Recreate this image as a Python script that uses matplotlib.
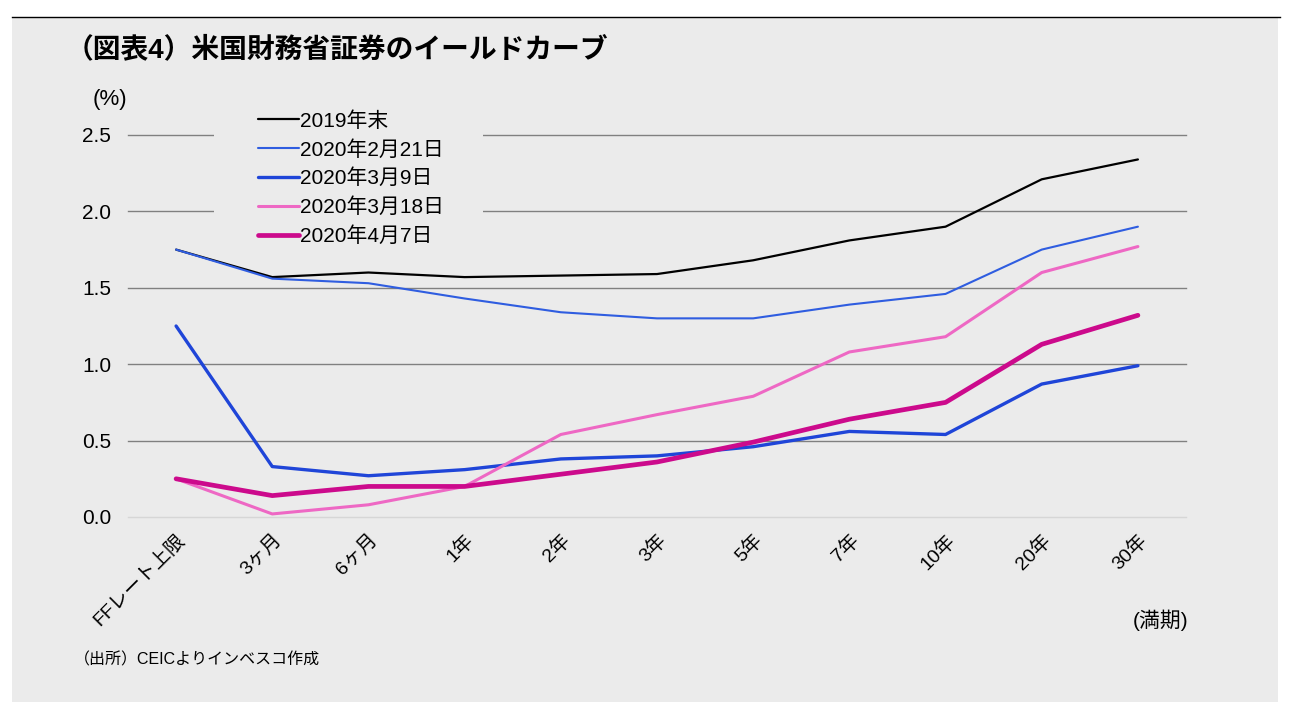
import matplotlib
matplotlib.use("Agg")
import matplotlib.pyplot as plt
from matplotlib.lines import Line2D
from matplotlib.patches import Rectangle

plt.rcParams['font.family'] = ['Liberation Sans', 'Noto Sans CJK JP', 'DejaVu Sans']

categories = ["FFレート上限", "3ヶ月", "6ヶ月", "1年", "2年", "3年", "5年", "7年", "10年", "20年", "30年"]
y2019_end = [1.75, 1.57, 1.60, 1.57, 1.58, 1.59, 1.68, 1.81, 1.90, 2.21, 2.34]
y2020_0221 = [1.75, 1.56, 1.53, 1.43, 1.34, 1.30, 1.30, 1.39, 1.46, 1.75, 1.90]
y2020_0309 = [1.25, 0.33, 0.27, 0.31, 0.38, 0.40, 0.46, 0.56, 0.54, 0.87, 0.99]
y2020_0318 = [0.25, 0.02, 0.08, 0.20, 0.54, 0.67, 0.79, 1.08, 1.18, 1.60, 1.77]
y2020_0407 = [0.25, 0.14, 0.20, 0.20, 0.28, 0.36, 0.49, 0.64, 0.75, 1.13, 1.32]
series_labels = ["2019年末", "2020年2月21日", "2020年3月9日", "2020年3月18日", "2020年4月7日"]
yticks = [0.0, 0.5, 1.0, 1.5, 2.0, 2.5]

colors = ["#000000", "#2f5de0", "#1f45d8", "#ee68c4", "#cc0a8c"]
widths = [1.6, 1.5, 2.4, 2.2, 3.4]

BG = "#ebebeb"
W, H = 1295, 720
fig = plt.figure(figsize=(W / 100, H / 100), dpi=100)
fig.patch.set_facecolor("white")

# background panel and top rule
bg = Rectangle((12 / W, 1 - 702 / H), (1278 - 12) / W, (702 - 17) / H,
               transform=fig.transFigure, facecolor=BG, edgecolor="none", zorder=-10)
fig.add_artist(bg)
fig.add_artist(Line2D([12 / W, 1280 / W], [1 - 17 / H, 1 - 17 / H], transform=fig.transFigure,
                      color="black", lw=1.0, zorder=-5))

ax = fig.add_axes([128 / W, 1 - 517 / H, 1058 / W, 382 / H])
ax.set_zorder(2)
ax.set_facecolor("none")
x = list(range(len(categories)))
all_series = [y2019_end, y2020_0221, y2020_0309, y2020_0318, y2020_0407]
for vals, lab, c, lw in zip(all_series, series_labels, colors, widths):
    ax.plot(x, vals, color=c, lw=lw, label=lab, solid_capstyle="round", clip_on=False, zorder=3)

ax.set_xlim(-0.5, len(categories) - 0.5)
ax.set_ylim(0, 2.5)
ax.set_yticks(yticks)
ax.set_yticklabels([f"{v:.1f}" for v in yticks], fontsize=15)
for v in yticks:
    ax.axhline(v, color="#d6d6d6" if v == 0 else "#808080", lw=1.0, zorder=1, clip_on=False)
ax.set_xticks(x)
ax.set_xticklabels(categories, rotation=45, ha="right", va="top", rotation_mode="anchor", fontsize=14)
ax.tick_params(axis="both", length=0)
ax.tick_params(axis="y", pad=12)
ax.tick_params(axis="x", pad=10)
for s in ax.spines.values():
    s.set_visible(False)

# legend backdrop hiding the gridlines behind the legend
ax.add_artist(Rectangle((214 / W, 1 - 250 / H), (483 - 214) / W, 150 / H, transform=fig.transFigure,
                        facecolor=BG, edgecolor="none", zorder=2, clip_on=False))

leg = ax.legend(loc="upper left", bbox_to_anchor=(258 / W, 1 - 111 / H), bbox_transform=fig.transFigure,
                fontsize=15, frameon=False, handlelength=1.95, handletextpad=0.05,
                labelspacing=0.44, borderpad=0, borderaxespad=0)
leg.set_zorder(5)

fig.text(66 / W, 1 - 50 / H, "（図表4）米国財務省証券のイールドカーブ", fontsize=20, fontweight="bold",
         ha="left", va="center")
fig.text(93 / W, 1 - 100 / H, "(%)", fontsize=16, ha="left", va="center")
fig.text(1133 / W, 1 - 620 / H, "(満期)", fontsize=15, ha="left", va="center")
fig.text(74 / W, 1 - 660 / H, "（出所）CEICよりインベスコ作成", fontsize=11.5, ha="left", va="center")

fig.savefig("out.png", dpi=100, facecolor="white")
